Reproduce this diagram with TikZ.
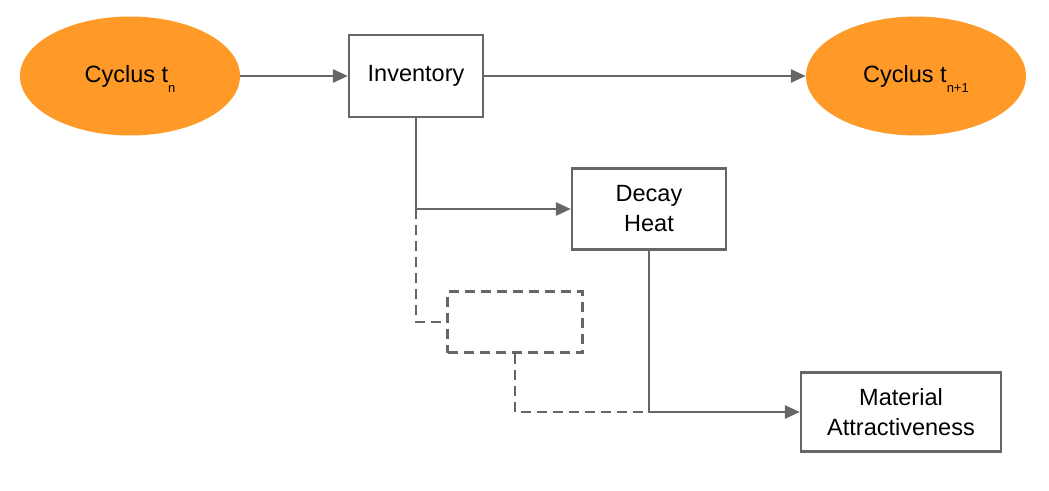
\documentclass[tikz,border=0pt]{standalone}
\usepackage{fontspec}
\setmainfont{Liberation Sans}
\usepackage{xcolor}
\usepackage{tikz}
\usetikzlibrary{positioning,shapes.geometric,arrows.meta}
\definecolor{CycOrange}{HTML}{FF9A29}
\definecolor{LineGray}{HTML}{666666}
\tikzset{
  cycnode/.style={ellipse,fill=CycOrange,draw=none,
    minimum width=220pt,minimum height=119pt,inner sep=0pt,
    font=\fontsize{23.5}{30}\selectfont},
  boxnode/.style={rectangle,draw=LineGray,line width=2.2pt,fill=white,
    inner sep=0pt,align=center,font=\fontsize{23.5}{30}\selectfont},
  dashnode/.style={rectangle,draw=LineGray,line width=2.2pt,
    dash pattern=on 10pt off 6pt,inner sep=0pt},
  edgeA/.style={line width=2.6pt,draw=LineGray,
    -{Triangle[length=15pt,width=13pt]}},
  edgeD/.style={line width=2.6pt,draw=LineGray,dash pattern=on 10pt off 6pt},
}
\newcommand{\subidx}[1]{\smash{\raisebox{-10pt}{\fontsize{13}{13}\selectfont #1}}}

\begin{document}
\begin{tikzpicture}[x=1pt,y=-1pt]
  \useasboundingbox (0,0) rectangle (1049,490);
  \node[cycnode] (cyc1) at (130,76) {Cyclus t\subidx{n}};
  \node[boxnode,minimum width=134pt,minimum height=82pt] (inv) at (416,76) {Inventory};
  \node[cycnode] (cyc2) at (916,76) {Cyclus t\subidx{n+1}};
  \node[boxnode,minimum width=154pt,minimum height=81pt] (decay) at (649,209) {Decay\\Heat};
  \node[dashnode,minimum width=135pt,minimum height=61pt] (dbox) at (515,322) {};
  \node[boxnode,minimum width=200pt,minimum height=79pt] (mat) at (901,412) {Material\\Attractiveness};
  \coordinate (jinv) at (inv.south |- decay.west);
  \coordinate (jdec) at (decay.south |- mat.west);
  \draw[edgeA] (cyc1.east) -- (inv.west);
  \draw[edgeA] (inv.east) -- (cyc2.west);
  \draw[edgeA] (inv.south) |- (decay.west);
  \draw[edgeD] (jinv) |- (dbox.west);
  \draw[edgeD] (dbox.south) |- (jdec);
  \draw[edgeA] (decay.south) |- (mat.west);
\end{tikzpicture}
\end{document}
